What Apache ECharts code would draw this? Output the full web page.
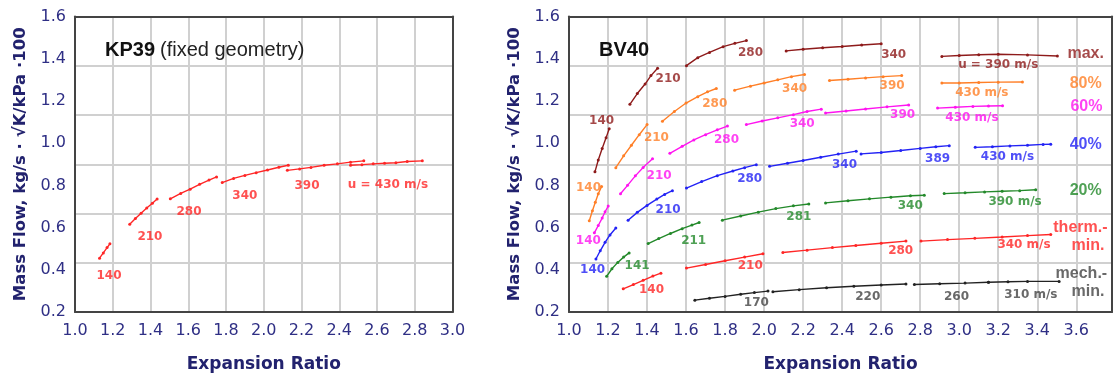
<!DOCTYPE html>
<html><head><meta charset="utf-8">
<script src="https://cdn.jsdelivr.net/npm/echarts@6/dist/echarts.min.js"></script>
<style>html,body{margin:0;padding:0;background:#fff}#c{width:1115px;height:378px}</style>
</head><body><div id="c"></div><script>
// ---------- KP39 (left) ----------
const kp140 = [[1.13,0.455],[1.15,0.48],[1.17,0.505],[1.185,0.523]];
const kp210 = [[1.29,0.616],[1.32,0.643],[1.35,0.668],[1.38,0.693],[1.41,0.715],[1.435,0.735]];
const kp280 = [[1.505,0.736],[1.56,0.762],[1.61,0.782],[1.66,0.805],[1.71,0.825],[1.75,0.840]];
const kp340 = [[1.78,0.813],[1.84,0.833],[1.90,0.847],[1.96,0.860],[2.02,0.873],[2.08,0.886],[2.13,0.895]];
const kp390 = [[2.125,0.871],[2.19,0.878],[2.25,0.885],[2.32,0.895],[2.39,0.902],[2.46,0.910],[2.53,0.916]];
const kp430 = [[2.46,0.895],[2.52,0.898],[2.58,0.902],[2.64,0.905],[2.70,0.907],[2.76,0.913],[2.84,0.916]];
const kpLabels = [[1.18,0.373,'140'],[1.397,0.558,'210'],[1.604,0.674,'280'],[1.90,0.748,'340'],[2.229,0.799,'390'],[2.658,0.804,'u = 430 m/s']];

// ---------- BV40 (right) ----------
const max140 = [[1.133,0.864],[1.15,0.92],[1.17,0.975],[1.19,1.025],[1.206,1.068]];
const max210 = [[1.312,1.184],[1.35,1.235],[1.39,1.28],[1.42,1.32],[1.454,1.355]];
const max280 = [[1.602,1.367],[1.66,1.405],[1.72,1.43],[1.79,1.457],[1.85,1.473],[1.909,1.486]];
const max340 = [[2.113,1.437],[2.2,1.445],[2.3,1.452],[2.4,1.458],[2.5,1.465],[2.6,1.471]];
const max390 = [[2.911,1.411],[3.0,1.415],[3.1,1.419],[3.2,1.421],[3.35,1.418],[3.503,1.413]];

const p80_140 = [[1.104,0.632],[1.12,0.68],[1.135,0.72],[1.15,0.76],[1.167,0.794]];
const p80_210 = [[1.24,0.884],[1.28,0.94],[1.32,0.99],[1.36,1.04],[1.40,1.088]];
const p80_280 = [[1.479,1.104],[1.54,1.15],[1.6,1.19],[1.66,1.22],[1.71,1.243],[1.755,1.259]];
const p80_340 = [[1.849,1.251],[1.93,1.27],[2.0,1.285],[2.07,1.30],[2.14,1.315],[2.207,1.325]];
const p80_390 = [[2.335,1.297],[2.43,1.303],[2.52,1.309],[2.61,1.315],[2.705,1.320]];
const p80_430 = [[2.911,1.285],[3.0,1.285],[3.1,1.287],[3.2,1.289],[3.324,1.290]];

const p60_140 = [[1.13,0.575],[1.15,0.61],[1.17,0.645],[1.185,0.675],[1.201,0.702]];
const p60_210 = [[1.264,0.76],[1.30,0.80],[1.34,0.845],[1.38,0.885],[1.428,0.926]];
const p60_280 = [[1.517,0.952],[1.58,0.985],[1.64,1.015],[1.70,1.04],[1.76,1.063],[1.812,1.081]];
const p60_340 = [[1.909,1.088],[1.99,1.105],[2.07,1.12],[2.15,1.135],[2.22,1.15],[2.293,1.161]];
const p60_390 = [[2.315,1.143],[2.42,1.152],[2.52,1.162],[2.63,1.172],[2.741,1.181]];
const p60_430 = [[2.889,1.166],[2.98,1.17],[3.07,1.174],[3.15,1.176],[3.222,1.177]];

const p40_140 = [[1.138,0.451],[1.16,0.49],[1.185,0.53],[1.21,0.565],[1.24,0.598]];
const p40_210 = [[1.303,0.635],[1.35,0.672],[1.40,0.705],[1.45,0.735],[1.49,0.757],[1.53,0.775]];
const p40_280 = [[1.602,0.787],[1.68,0.818],[1.76,0.846],[1.84,0.868],[1.90,0.884],[1.96,0.898]];
const p40_340 = [[2.028,0.890],[2.12,0.905],[2.2,0.918],[2.29,0.933],[2.38,0.948],[2.472,0.962]];
const p40_389 = [[2.497,0.949],[2.6,0.956],[2.7,0.965],[2.8,0.975],[2.88,0.983],[2.949,0.988]];
const p40_430 = [[3.082,0.980],[3.17,0.983],[3.26,0.987],[3.35,0.990],[3.43,0.994],[3.469,0.995]];

const p20_141 = [[1.193,0.369],[1.22,0.405],[1.25,0.435],[1.28,0.46],[1.308,0.48]];
const p20_211 = [[1.406,0.524],[1.46,0.548],[1.52,0.572],[1.58,0.595],[1.63,0.612],[1.667,0.624]];
const p20_281 = [[1.786,0.635],[1.88,0.655],[1.97,0.673],[2.06,0.69],[2.15,0.703],[2.229,0.712]];
const p20_340 = [[2.315,0.717],[2.43,0.727],[2.54,0.736],[2.65,0.744],[2.75,0.751],[2.821,0.753]];
const p20_390 = [[2.923,0.761],[3.03,0.765],[3.13,0.769],[3.22,0.772],[3.31,0.775],[3.392,0.779]];

const therm140 = [[1.278,0.310],[1.33,0.33],[1.38,0.35],[1.43,0.37],[1.471,0.384]];
const therm210 = [[1.602,0.408],[1.70,0.425],[1.80,0.443],[1.90,0.46],[1.994,0.476]];
const therm280 = [[2.096,0.482],[2.22,0.493],[2.35,0.505],[2.47,0.515],[2.6,0.526],[2.727,0.536]];
const therm340 = [[2.804,0.536],[2.94,0.543],[3.08,0.549],[3.22,0.555],[3.35,0.562],[3.469,0.567]];

const mech170 = [[1.645,0.256],[1.72,0.265],[1.8,0.274],[1.88,0.284],[1.95,0.292],[2.02,0.299]];
const mech220 = [[2.045,0.296],[2.18,0.306],[2.32,0.315],[2.46,0.322],[2.6,0.328],[2.727,0.333]];
const mech260 = [[2.77,0.330],[2.9,0.334],[3.03,0.337],[3.15,0.341]];
const mech310 = [[3.15,0.341],[3.25,0.343],[3.35,0.345],[3.512,0.345]];

const maxLabels = [[1.167,1.107,'140'],[1.508,1.305,'210'],[1.93,1.429,'280'],[2.664,1.417,'340'],[3.20,1.372,'u = 390 m/s']];
const p80Labels = [[1.10,0.79,'140'],[1.448,1.027,'210'],[1.747,1.184,'280'],[2.156,1.259,'340'],[2.656,1.271,'390'],[3.116,1.236,'430 m/s']];
const p60Labels = [[1.099,0.536,'140'],[1.462,0.845,'210'],[1.807,1.014,'280'],[2.195,1.093,'340'],[2.71,1.132,'390'],[3.065,1.119,'430 m/s']];
const p40Labels = [[1.121,0.40,'140'],[1.508,0.683,'210'],[1.926,0.833,'280'],[2.412,0.895,'340'],[2.889,0.926,'389'],[3.247,0.934,'430 m/s']];
const p20Labels = [[1.349,0.42,'141'],[1.639,0.539,'211'],[2.178,0.652,'281'],[2.749,0.702,'340'],[3.286,0.722,'390 m/s']];
const thermLabels = [[1.423,0.304,'140'],[1.929,0.418,'210'],[2.70,0.488,'280'],[3.332,0.516,'340 m/s']];
const mechLabels = [[1.96,0.245,'170'],[2.531,0.271,'220'],[2.986,0.271,'260'],[3.367,0.280,'310 m/s']];
const groupLabels = [[3.648,1.424,'max.'],[3.648,1.282,'80%'],[3.652,1.174,'60%'],[3.648,0.995,'40%'],[3.648,0.774,'20%'],[3.621,0.601,'therm.-'],[3.66,0.516,'min.'],[3.626,0.384,'mech.-'],[3.66,0.299,'min.']];

const xTicksKP = [1.0, 3.0, 0.2];
const xTicksBV = [1.0, 3.783, 0.2];
const yTicks = [0.2, 1.6, 0.2];

const C = {max:'#8e1b1b', p80:'#ff7f27', p60:'#ff14f0', p40:'#2323f5', p20:'#23892a', therm:'#ff2626', mech:'#222222', mechLab:'#444444'};
const navy = '#2f2f85', navyDark = '#22226e';

const series = [];
function lines(segs, color, gi) {
  segs.forEach(s => series.push({type:'line', xAxisIndex:gi*2, yAxisIndex:gi*2, data:s, symbol:'circle', symbolSize:3, showSymbol:true,
    lineStyle:{color, width:1.4}, itemStyle:{color}, silent:true, z:3}));
}
function labels(arr, color, gi, size, family) {
  series.push({type:'scatter', xAxisIndex:gi*2, yAxisIndex:gi*2, symbolSize:1, itemStyle:{color:'transparent'}, silent:true, z:5,
    data: arr.map(a => ({value:[a[0],a[1]], name:a[2]})),
    label:{show:true, position:'inside', formatter:'{b}', color, fontWeight:'bold', fontSize:size||12, fontFamily:family||'DejaVu Sans'}});
}
lines([kp140,kp210,kp280,kp340,kp390,kp430], C.therm, 0);
labels(kpLabels, C.therm, 0);
lines([max140,max210,max280,max340,max390], C.max, 1);
lines([p80_140,p80_210,p80_280,p80_340,p80_390,p80_430], C.p80, 1);
lines([p60_140,p60_210,p60_280,p60_340,p60_390,p60_430], C.p60, 1);
lines([p40_140,p40_210,p40_280,p40_340,p40_389,p40_430], C.p40, 1);
lines([p20_141,p20_211,p20_281,p20_340,p20_390], C.p20, 1);
lines([therm140,therm210,therm280,therm340], C.therm, 1);
lines([mech170,mech220,mech260,mech310], C.mech, 1);
labels(maxLabels, C.max, 1);
labels(p80Labels, C.p80, 1);
labels(p60Labels, C.p60, 1);
labels(p40Labels, C.p40, 1);
labels(p20Labels, C.p20, 1);
labels(thermLabels, C.therm, 1);
labels(mechLabels, C.mechLab, 1);
const gcol = [C.max,C.p80,C.p60,C.p40,C.p20,C.therm,C.therm,C.mechLab,C.mechLab];
series.push({type:'scatter', xAxisIndex:2, yAxisIndex:2, symbolSize:1, itemStyle:{color:'transparent'}, silent:true, z:5,
  data: groupLabels.map((a,i) => ({value:[a[0],a[1]], name:a[2], label:{color:gcol[i]}})),
  label:{show:true, position:'inside', formatter:'{b}', fontWeight:'bold', fontSize:16, fontFamily:'Liberation Sans'}});

const tickFont = {color:navy, fontSize:16, fontFamily:'DejaVu Sans'};
const nameFont = {color:navyDark, fontSize:17, fontWeight:'bold', fontFamily:'DejaVu Sans'};
const split = () => ({show:true, lineStyle:{color:'#d0d0d0', width:2, type:'solid'}});
const border = () => ({show:true, onZero:false, lineStyle:{color:'#444', width:2}});
function xAx(gi, t, hideAbove) {
  return [{type:'value', gridIndex:gi, min:t[0], max:t[1], interval:t[2], position:'bottom',
    axisLine:border(), axisTick:{show:false}, splitLine:split(),
    axisLabel:Object.assign({margin:11, formatter:v => (v > hideAbove + 1e-6 ? '' : v.toFixed(1))}, tickFont),
    name:'Expansion Ratio', nameLocation:'middle', nameGap:44, nameTextStyle:nameFont},
   {type:'value', gridIndex:gi, min:t[0], max:t[1], interval:t[2], position:'top',
    axisLine:border(), axisTick:{show:false}, splitLine:{show:false}, axisLabel:{show:false}}];
}
function yAx(gi) {
  return [{type:'value', gridIndex:gi, min:yTicks[0], max:yTicks[1], interval:yTicks[2], position:'left',
    axisLine:border(), axisTick:{show:false}, splitLine:{show:false},
    axisLabel:Object.assign({margin:9, formatter:v => v.toFixed(1)}, tickFont),
    name:'Mass Flow, kg/s · √K/kPa ·100', nameLocation:'middle', nameGap:46, nameTextStyle:Object.assign({}, nameFont, {fontSize:16.5})},
   {type:'value', gridIndex:gi, min:0, max:6, interval:1, position:'right',
    axisLine:border(), axisTick:{show:false}, axisLabel:{show:false}, splitLine:split()}];
}

const chart = echarts.init(document.getElementById('c'), null, {renderer:'canvas'});
chart.setOption({
  animation:false,
  backgroundColor:'#fff',
  title:[
    {text:'{b|KP39} {n|(fixed geometry)}', left:100, top:35, textStyle:{rich:{
      b:{fontFamily:'Liberation Sans', fontWeight:'bold', fontSize:20, color:'#111'},
      n:{fontFamily:'Liberation Sans', fontWeight:'normal', fontSize:20, color:'#222'}}}},
    {text:'BV40', left:594, top:35, textStyle:{fontFamily:'Liberation Sans', fontWeight:'bold', fontSize:20, color:'#111'}}
  ],
  grid:[
    {left:75, top:16.5, width:377.5, height:301.5},
    {left:569, top:16.5, width:544, height:301.5}
  ],
  xAxis:[].concat(xAx(0, xTicksKP, 3.0), xAx(1, xTicksBV, 3.6)),
  yAxis:[].concat(yAx(0), yAx(1)),
  series
});
</script></body></html>
